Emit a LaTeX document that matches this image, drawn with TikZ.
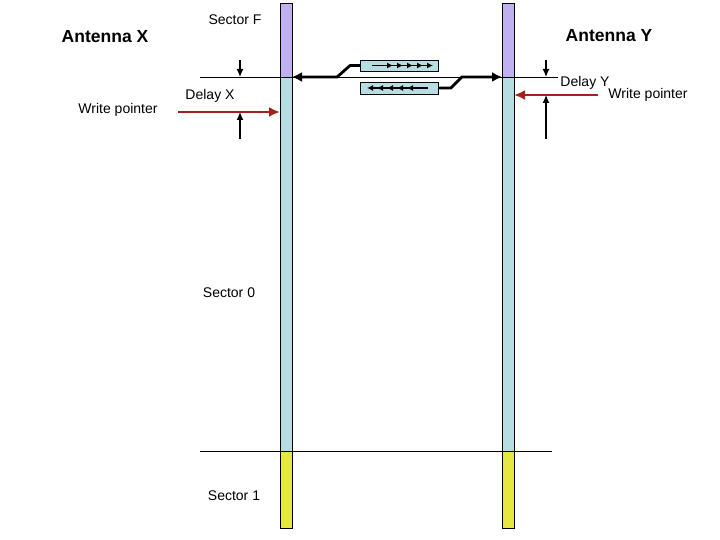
\documentclass[tikz,border=0pt]{standalone}
\usepackage{fontspec}
\setmainfont{Liberation Sans}
\usetikzlibrary{arrows.meta,positioning}
\definecolor{SectPurple}{HTML}{C0B0F0}
\definecolor{SectCyan}{HTML}{B6DDE1}
\definecolor{SectYellow}{HTML}{E4E840}
\definecolor{PtrRed}{HTML}{A3221E}

\begin{document}
\begin{tikzpicture}[
            x=1pt, y=-1pt,
            font=\fontsize{14}{16}\selectfont,
            >=Latex,
            sector/.style={
                    draw=black,
                    line width=0.8pt,
                    minimum width=12pt,
                    inner sep=0pt,
                    outer sep=0pt
                },
            sectF/.style={sector, fill=SectPurple, minimum height=74pt, anchor=north},
            sectZ/.style={sector, fill=SectCyan, minimum height=374pt},
            sectO/.style={sector, fill=SectYellow, minimum height=77pt},
            pktbox/.style={draw=black, line width=0.8pt, fill=SectCyan,
                    minimum width=78pt, minimum height=11pt, inner sep=0pt},
            guide/.style={draw=black, line width=0.7pt},
            delay/.style={-{Latex[length=8pt,width=7pt]}, line width=1.2pt},
            wptr/.style={-{Latex[length=11pt,width=10pt]}, line width=2.8pt, draw=PtrRed},
            link/.style={-{Latex[length=10pt,width=10pt]}, line width=2.8pt},
            pkt/.style={-{Latex[length=6pt,width=6pt]}, line width=1.2pt},
            lbl/.style={inner sep=1pt},
            title/.style={font=\fontsize{17.5}{20}\selectfont\bfseries},
        ]
        \useasboundingbox (0,0) rectangle (720,540);

        % Antenna X column
        \node[sectF] (fx) at (286,3) {};
        \node[sectZ, below=0pt of fx] (zx) {};
        \node[sectO, below=0pt of zx] (ox) {};

        % Antenna Y column
        \node[sectF] (fy) at (508,3) {};
        \node[sectZ, below=0pt of fy] (zy) {};
        \node[sectO, below=0pt of zy] (oy) {};

        % Sector boundaries
        \draw[guide] ([xshift=-80pt]fx.south west) -- ([xshift=44pt]fy.south east);
        \draw[guide] ([xshift=-80pt]ox.north west) -- ([xshift=38pt]oy.north east);

        % Packet boxes
        \node[pktbox] (txbox) at (399.5,65.5) {};
        \node[pktbox, minimum height=12pt] (rxbox) at (399.5,88) {};

        \draw[line width=1.2pt] (372,65.5) -- (430,65.5);
        \foreach \x in {393,403,...,433}
            \draw[pkt] (\x-6,65.5) -- (\x,65.5);
        \draw[line width=1.2pt] (428,88) -- (370,88);
        \foreach \x in {367,377,...,407}
            \draw[pkt] (\x+6,88) -- (\x,88);

        % Links to the columns
        \draw[link] (txbox.west) -- ++(-10,0) -- ++(-13,11.5) -- (fx.south east);
        \draw[link] (rxbox.east) -- ++(12,0) -- ++(11,-11) -- (fy.south west);

        % Delay markers
        \coordinate (dxt) at (240,60);
        \coordinate (dxb) at (240,139);
        \coordinate (dyt) at (546,60);
        \coordinate (dyb) at (546,139);
        \draw[delay] (dxt) -- (dxt |- fx.south);
        \draw[delay] (dxb) -- (240,112);
        \draw[delay] (dyt) -- (dyt |- fy.south);
        \draw[delay] (dyb) -- (546,95);

        % Write pointers
        \coordinate (wx) at (178,112);
        \coordinate (wy) at (598,95);
        \draw[wptr] (wx) -- (wx -| zx.west);
        \draw[wptr] (wy) -- (wy -| zy.east);

        % Labels
        \node[title] (antx) at (105,37) {Antenna X};
        \node[title] (anty) at (609,36) {Antenna Y};
        \node[lbl] (secf) at (235,20) {Sector F};
        \node[lbl] (sec0) at (229,293) {Sector 0};
        \node[lbl] (sec1) at (234,496) {Sector 1};
        \node[lbl] (dlx) at (210,96) {Delay X};
        \node[lbl] (dly) at (585,83) {Delay Y};
        \node[lbl] (wpx) at (118,110) {Write pointer};
        \node[lbl] (wpy) at (648,95) {Write pointer};

    \end{tikzpicture}
\end{document}
